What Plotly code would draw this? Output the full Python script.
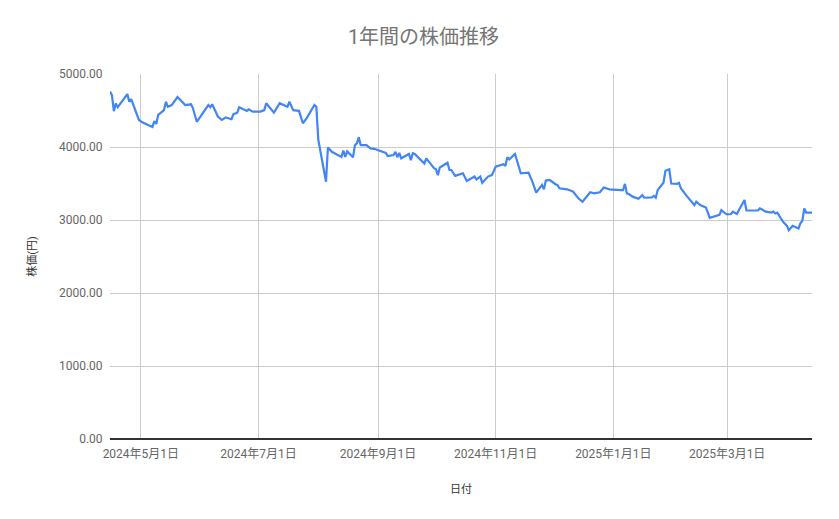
import plotly.graph_objects as go

# 日付と終値
dates = [
    "2024-04-15", "2024-04-16", "2024-04-17", "2024-04-18", "2024-04-19", "2024-04-24",
    "2024-04-25", "2024-04-26", "2024-04-30", "2024-05-02", "2024-05-07", "2024-05-08",
    "2024-05-09", "2024-05-10", "2024-05-13", "2024-05-14", "2024-05-15", "2024-05-17",
    "2024-05-20", "2024-05-23", "2024-05-24", "2024-05-27", "2024-05-28", "2024-05-30",
    "2024-06-05", "2024-06-06", "2024-06-07", "2024-06-10", "2024-06-12", "2024-06-14",
    "2024-06-17", "2024-06-18", "2024-06-20", "2024-06-21", "2024-06-25", "2024-06-26",
    "2024-06-28", "2024-07-02", "2024-07-04", "2024-07-05", "2024-07-09", "2024-07-12",
    "2024-07-16", "2024-07-17", "2024-07-19", "2024-07-22", "2024-07-24", "2024-07-26",
    "2024-07-30", "2024-07-31", "2024-08-01", "2024-08-05", "2024-08-06", "2024-08-08",
    "2024-08-13", "2024-08-14", "2024-08-15", "2024-08-16", "2024-08-19", "2024-08-20",
    "2024-08-21", "2024-08-22", "2024-08-23", "2024-08-26", "2024-08-28", "2024-08-30",
    "2024-09-02", "2024-09-05", "2024-09-06", "2024-09-09", "2024-09-10", "2024-09-11",
    "2024-09-12", "2024-09-13", "2024-09-17", "2024-09-18", "2024-09-19", "2024-09-20",
    "2024-09-25", "2024-09-26", "2024-09-30", "2024-10-01", "2024-10-02", "2024-10-03",
    "2024-10-07", "2024-10-08", "2024-10-09", "2024-10-11", "2024-10-15", "2024-10-17",
    "2024-10-21", "2024-10-22", "2024-10-24", "2024-10-25", "2024-10-28", "2024-10-30",
    "2024-11-01", "2024-11-05", "2024-11-06", "2024-11-07", "2024-11-08", "2024-11-11",
    "2024-11-14", "2024-11-18", "2024-11-20", "2024-11-22", "2024-11-25", "2024-11-26",
    "2024-11-27", "2024-11-29", "2024-12-02", "2024-12-03", "2024-12-04", "2024-12-08",
    "2024-12-11", "2024-12-14", "2024-12-16", "2024-12-18", "2024-12-20", "2024-12-22",
    "2024-12-25", "2024-12-27", "2024-12-30", "2025-01-05", "2025-01-06", "2025-01-07",
    "2025-01-08", "2025-01-09", "2025-01-11", "2025-01-14", "2025-01-16", "2025-01-17",
    "2025-01-21", "2025-01-22", "2025-01-23", "2025-01-24", "2025-01-27", "2025-01-28",
    "2025-01-30", "2025-01-31", "2025-02-03", "2025-02-04", "2025-02-05", "2025-02-08",
    "2025-02-12", "2025-02-13", "2025-02-15", "2025-02-18", "2025-02-20", "2025-02-25",
    "2025-02-26", "2025-02-28", "2025-03-01", "2025-03-03", "2025-03-04", "2025-03-06",
    "2025-03-10", "2025-03-11", "2025-03-17", "2025-03-18", "2025-03-21", "2025-03-24",
    "2025-03-25", "2025-03-26", "2025-03-27", "2025-03-30", "2025-04-01", "2025-04-02",
    "2025-04-04", "2025-04-07", "2025-04-08", "2025-04-09", "2025-04-10", "2025-04-11",
    "2025-04-14",
]
prices = [
    4760, 4710, 4490, 4595, 4545, 4725,
    4620, 4655, 4370, 4335, 4275, 4355,
    4315, 4440, 4505, 4620, 4550, 4575,
    4685, 4600, 4575, 4585, 4530, 4345,
    4575, 4545, 4585, 4415, 4370, 4405,
    4380, 4450, 4470, 4545, 4495, 4515,
    4485, 4485, 4505, 4600, 4470, 4600,
    4550, 4620, 4505, 4495, 4325, 4395,
    4575, 4550, 4100, 3525, 3995, 3935,
    3865, 3950, 3865, 3940, 3860, 4025,
    4050, 4135, 4025, 4025, 3980, 3975,
    3945, 3920, 3875, 3890, 3935, 3860,
    3920, 3845, 3905, 3820, 3915, 3905,
    3775, 3845, 3710, 3695, 3615, 3720,
    3785, 3685, 3685, 3605, 3640, 3535,
    3595, 3555, 3595, 3510, 3595, 3615,
    3730, 3765, 3740, 3860, 3830, 3905,
    3640, 3650, 3525, 3375, 3480, 3420,
    3540, 3548, 3490, 3480, 3435, 3420,
    3390, 3295, 3250, 3320, 3380, 3365,
    3380, 3445, 3420, 3410, 3410, 3495,
    3365, 3355, 3320, 3290, 3340, 3305,
    3310, 3330, 3305, 3410, 3510, 3675,
    3695, 3500, 3495, 3510, 3435, 3330,
    3205, 3250, 3205, 3170, 3030, 3070,
    3135, 3090, 3078, 3082, 3114, 3082,
    3275, 3130, 3130, 3160, 3115, 3100,
    3115, 3090, 3100, 2975, 2920, 2860,
    2920, 2885, 2955, 2990, 3160, 3100,
    3100,
]

tick_dates = ["2024-05-01", "2024-07-01", "2024-09-01", "2024-11-01", "2025-01-01", "2025-03-01"]
tick_labels = ["2024年5月1日", "2024年7月1日", "2024年9月1日", "2024年11月1日", "2025年1月1日", "2025年3月1日"]
y_ticks = [0, 1000, 2000, 3000, 4000, 5000]


def main():
    fig = go.Figure(go.Scatter(x=dates, y=prices, mode="lines",
                               line=dict(color="#4285F4", width=2.2),
                               name="株価"))

    # page body has an 8px margin, so the figure is 8px smaller than the window
    fig.update_layout(
        width=831, height=511,
        margin=dict(l=102, r=27, t=66, b=80),
        paper_bgcolor="white", plot_bgcolor="white",
        font=dict(family="Roboto, 'Noto Sans CJK JP', sans-serif", color="#666", size=12),
        title=dict(text="1年間の株価推移", x=0.5, xanchor="center", y=0.943, yanchor="middle",
                   font=dict(size=20, color="#757575")),
        showlegend=False,
    )
    fig.update_xaxes(
        range=[dates[0], dates[-1]],
        tickvals=tick_dates, ticktext=tick_labels,
        showgrid=True, gridcolor="#cccccc", gridwidth=1,
        showline=False, zeroline=False,
        ticks="outside", ticklen=4, tickcolor="rgba(0,0,0,0)",
        title=dict(text="日付", font=dict(size=11, color="#333"), standoff=24),
        tickfont=dict(size=12, color="#666"),
    )
    fig.update_yaxes(
        range=[0, 5000], tickvals=y_ticks, tickformat=".2f",
        showgrid=True, gridcolor="#cccccc", gridwidth=1,
        zeroline=True, zerolinecolor="#333333", zerolinewidth=1.5,
        ticks="outside", ticklen=4, tickcolor="rgba(0,0,0,0)",
        title=dict(text="株価(円)", font=dict(size=11, color="#333"), standoff=20),
        tickfont=dict(size=12, color="#666"),
    )

    fig.write_html("out.html")


if __name__ == "__main__":
    main()
